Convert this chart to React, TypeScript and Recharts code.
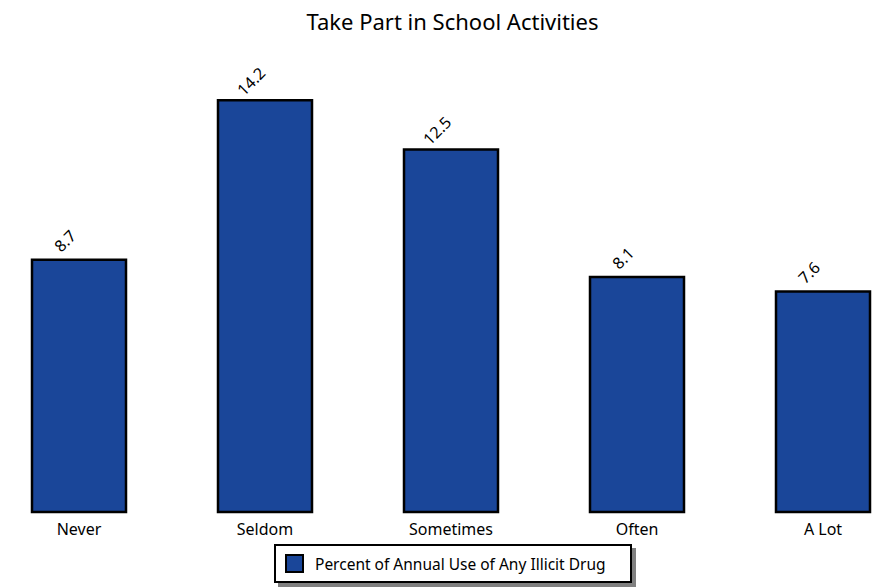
import { Bar, BarChart, LabelList, XAxis, YAxis } from "recharts";

const categories = ["Never", "Seldom", "Sometimes", "Often", "A Lot"];
const usePercent = [8.7, 14.2, 12.5, 8.1, 7.6];
const seriesName = "Percent of Annual Use of Any Illicit Drug";
const title = "Take Part in School Activities";

const data = categories.map((cat, i) => ({ cat, value: usePercent[i] }));

const FONT = "'Noto Sans', sans-serif";
const BLUE = "#1a4699";

function RotatedLabel(props: any) {
  const { x, y, width, value } = props;
  const cx = x + width / 2 - 14;
  const cy = y - 19;
  return (
    <text
      x={cx}
      y={cy}
      textAnchor="middle"
      dominantBaseline="central"
      fontSize={16}
      fontFamily={FONT}
      fill="#000"
      transform={`rotate(-45, ${cx}, ${cy})`}
    >
      {value}
    </text>
  );
}

export default function App() {
  return (
    <div
      style={{
        position: "absolute",
        left: 0,
        top: 0,
        width: 878,
        height: 587,
        overflow: "hidden",
        background: "#fff",
        fontFamily: FONT,
      }}
    >
      <div
        style={{
          position: "absolute",
          top: 6,
          left: 0,
          width: 905,
          textAlign: "center",
          fontSize: 22,
          color: "#000",
        }}
      >
        {title}
      </div>
      <BarChart
        width={930}
        height={587}
        data={data}
        margin={{ top: 77, right: 0, left: 0, bottom: 45 }}
        barSize={94}
        style={{ position: "absolute", left: -14, top: 0 }}
      >
        <XAxis
          dataKey="cat"
          axisLine={false}
          tickLine={false}
          height={30}
          tickMargin={6}
          interval={0}
          tick={{ fontSize: 16, fill: "#000", fontFamily: FONT }}
        />
        <YAxis hide domain={[0, 15]} />
        <Bar dataKey="value" fill={BLUE} stroke="#000" strokeWidth={2.5} isAnimationActive={false}>
          <LabelList dataKey="value" content={<RotatedLabel />} />
        </Bar>
      </BarChart>
      <div
        style={{
          position: "absolute",
          left: 274,
          top: 544,
          width: 358,
          height: 39,
          boxSizing: "border-box",
          border: "2px solid #000",
          boxShadow: "4px 4px 0 #808080",
          background: "#fff",
          display: "flex",
          alignItems: "center",
          fontSize: 15.5,
          color: "#000",
        }}
      >
        <span
          style={{
            display: "inline-block",
            width: 19,
            height: 19,
            boxSizing: "border-box",
            background: BLUE,
            border: "2px solid #000",
            marginLeft: 9,
            marginRight: 11,
          }}
        />
        <span>{seriesName}</span>
      </div>
    </div>
  );
}
